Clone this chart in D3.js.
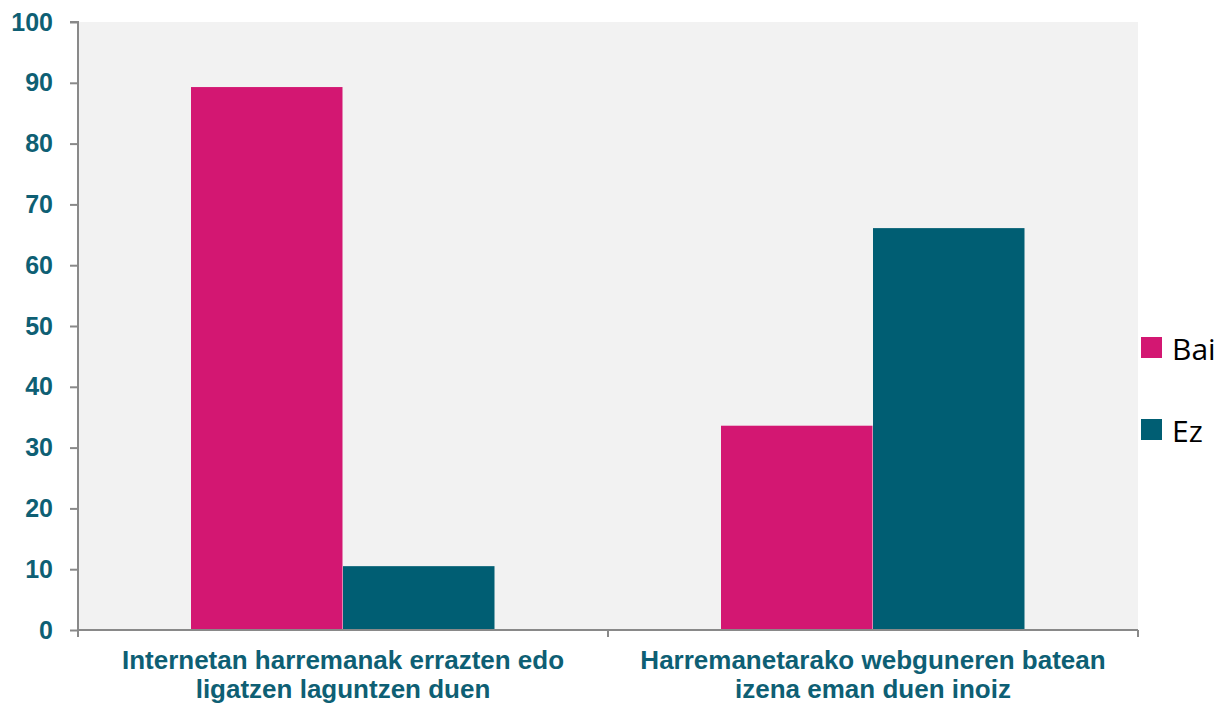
<!DOCTYPE html>
<meta charset="utf-8">
<script src="https://d3js.org/d3.v7.min.js"></script>
<style>
  body { margin: 0; background: #fff; }
</style>
<div id="chart"></div>
<script>
// chart data
var categories = [
  ["Internetan harremanak errazten edo", "ligatzen laguntzen duen"],
  ["Harremanetarako webguneren batean", "izena eman duen inoiz"]
];
var series = ["Bai", "Ez"];
var bai = [89.3, 33.6];
var ez = [10.5, 66.1];
var yTicks = [0, 10, 20, 30, 40, 50, 60, 70, 80, 90, 100];
var colors = ["#d31772", "#005e73"];

var width = 1220, height = 705;
var plot = {left: 78, right: 1138, top: 22, bottom: 630};

var svg = d3.select("#chart").append("svg")
    .attr("width", width)
    .attr("height", height);

// plot background
svg.append("rect")
    .attr("x", plot.left).attr("y", plot.top)
    .attr("width", plot.right - plot.left)
    .attr("height", plot.bottom - plot.top)
    .style("fill", "#f2f2f2");

var x0 = d3.scaleBand()
    .domain(d3.range(categories.length))
    .range([plot.left, plot.right]);

var x1 = d3.scaleBand()
    .domain(series)
    .range([113, x0.bandwidth() - 113]);

var y = d3.scaleLinear()
    .domain([0, 100])
    .range([plot.bottom, plot.top]);

var rows = categories.map(function(c, i) {
  return [{s: "Bai", v: bai[i]}, {s: "Ez", v: ez[i]}];
});

// bars
var groups = svg.selectAll("g.cat")
  .data(rows)
  .enter().append("g")
    .attr("class", "cat")
    .attr("transform", function(d, i) { return "translate(" + x0(i) + ",0)"; });

groups.selectAll("rect")
  .data(function(d) { return d; })
  .enter().append("rect")
    .attr("x", function(d) { return x1(d.s); })
    .attr("y", function(d) { return y(d.v); })
    .attr("width", x1.bandwidth() - 0.5)
    .attr("height", function(d) { return y(0) - y(d.v); })
    .style("fill", function(d, i) { return colors[i]; });

// y axis
var yAxis = svg.append("g")
    .attr("transform", "translate(" + plot.left + ",0)")
    .call(d3.axisLeft(y).tickValues(yTicks).tickSize(8).tickPadding(17));
yAxis.select(".domain").attr("stroke", "#898989").attr("stroke-width", 2)
    .attr("d", "M-8," + plot.top + "H0V" + (plot.bottom + 7));
yAxis.selectAll(".tick line").attr("stroke", "#898989").attr("stroke-width", 2);
yAxis.selectAll(".tick text")
    .style("font-family", "Liberation Sans, Arial, sans-serif")
    .style("font-size", "25px")
    .style("font-weight", "bold")
    .style("fill", "#0e5f74");

// x axis
var xAxis = svg.append("g")
    .attr("transform", "translate(0," + plot.bottom + ")");
xAxis.append("line")
    .attr("x1", plot.left).attr("x2", plot.right)
    .attr("stroke", "#898989").attr("stroke-width", 2);
xAxis.selectAll("line.tk")
  .data(d3.range(categories.length + 1))
  .enter().append("line")
    .attr("class", "tk")
    .attr("x1", function(d) { return d < categories.length ? x0(d) : plot.right; })
    .attr("x2", function(d) { return d < categories.length ? x0(d) : plot.right; })
    .attr("y1", 0).attr("y2", 7)
    .attr("stroke", "#898989").attr("stroke-width", 2);

var labels = svg.selectAll("text.cat")
  .data(categories)
  .enter().append("text")
    .attr("class", "cat")
    .attr("x", function(d, i) { return x0(i) + x0.bandwidth() / 2; })
    .attr("y", 669)
    .attr("text-anchor", "middle")
    .style("font-family", "Liberation Sans, Arial, sans-serif")
    .style("font-size", "26px")
    .style("font-weight", "bold")
    .style("fill", "#0e5f74");
labels.selectAll("tspan")
  .data(function(d) { return d; })
  .enter().append("tspan")
    .attr("x", function() { return d3.select(this.parentNode).attr("x"); })
    .attr("dy", function(d, i) { return i === 0 ? 0 : 29; })
    .text(function(d) { return d; });

// legend
var legend = svg.selectAll("g.legend")
  .data(series)
  .enter().append("g")
    .attr("class", "legend")
    .attr("transform", function(d, i) { return "translate(1141," + (337 + i * 82) + ")"; });
legend.append("rect")
    .attr("width", 21).attr("height", 21)
    .style("fill", function(d, i) { return colors[i]; });
legend.append("text")
    .attr("x", 31).attr("y", 11)
    .attr("dominant-baseline", "central")
    .style("font-family", "Open Sans, Liberation Sans, sans-serif")
    .style("font-size", "30px")
    .style("fill", "#000")
    .text(function(d) { return d; });
</script>
